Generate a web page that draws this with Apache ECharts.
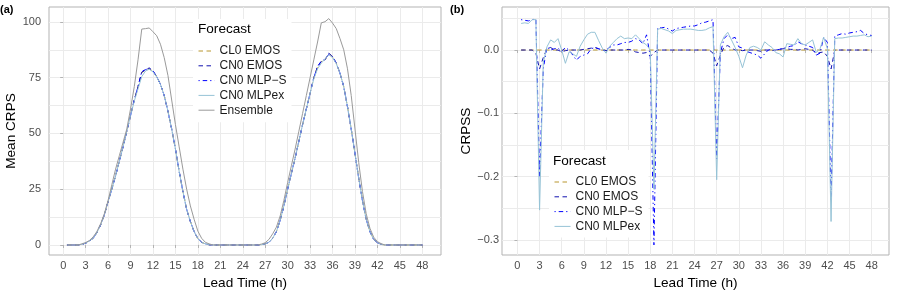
<!DOCTYPE html>
<html>
<head>
<meta charset="utf-8">
<script src="https://cdn.jsdelivr.net/npm/echarts@6/dist/echarts.min.js"></script>
<style>
html,body{margin:0;padding:0;background:#fff;}
#c{width:899px;height:295px;}
</style>
</head>
<body>
<div id="c"></div>
<script>
// ---- data ----
const leadTime = [0.5,1,1.5,2,2.5,3,3.5,4,4.5,5,5.5,6,6.5,7,7.5,8,8.5,9,9.5,10,10.5,11,11.5,12,
  12.5,13,13.5,14,14.5,15,15.5,16,16.5,17,17.5,18,18.5,19,19.5,20,20.5,21,21.5,22,22.5,23,23.5,24,
  24.5,25,25.5,26,26.5,27,27.5,28,28.5,29,29.5,30,30.5,31,31.5,32,32.5,33,33.5,34,34.5,35,35.5,36,
  36.5,37,37.5,38,38.5,39,39.5,40,40.5,41,41.5,42,42.5,43,43.5,44,44.5,45,45.5,46,46.5,47,47.5,48];

const xTicks = [0,3,6,9,12,15,18,21,24,27,30,33,36,39,42,45,48];
const crpsYTicks = [0,25,50,75,100];
const crpsYGrid = [0,12.5,25,37.5,50,62.5,75,87.5,100];
const crpssYTicks = [-0.3,-0.2,-0.1,0];
const crpssYGrid = [-0.3,-0.25,-0.2,-0.15,-0.1,-0.05,0,0.05];

// Panel (a): mean CRPS
const crpsEnsemble = [0,0,0,0,
  0.5,1.1,2.0,3.6,6.0,9.5,14,20,27,34,40,46,52,61,71,83,96.8,97.0,97.3,95.6,93.8,90,84,76,65,54,44,34,25,17.5,11.5,6.2,3.0,1.2,0.5,
  0,0,0,0,0,0,0,0,0,0,0,0,0,
  0.4,1.0,2.5,5,8,13,20,28,35.5,43,51,59,67,75,83,91,99.6,100.1,101.5,99.5,97,92.5,87.5,79,67,52,37,24,14,7.5,3.5,1.5,0.6,
  0,0,0,0,0,0,0,0,0,0,0];
const crpsCN0EMOS = [0,0,0,0,
  0.3,0.8,1.8,3.0,5.5,9.0,13.5,19.5,25,31,37.5,44,51,58,65,71,77.5,78.5,79.4,78,75.5,72,67,60,52,43,33,24,16,10.5,6,2.8,1.2,0.5,0.1,
  0,0,0,0,0,0,0,0,0,0,0,0,0,
  0.1,0.5,1.2,3,6,11,17.5,25,32,39,46.5,54,61,68,75,80,82.3,83,86,84.5,81.5,77,71,62,52,41,30,20,11.5,6,2.5,1,0.3,
  0,0,0,0,0,0,0,0,0,0,0];
const crpsCL0EMOS = [0,0,0,0,
  0.3,0.8,1.8,3.0,5.5,9.0,13.5,19.5,25,31,37.5,44,51,58,65,71,77.3,78.4,79.0,77.9,75.5,72,67,60,52,43,33,24,16,10.5,6,2.8,1.2,0.5,0.1,
  0,0,0,0,0,0,0,0,0,0,0,0,0,
  0.1,0.5,1.2,3,6,11,17.5,25,32,39,46.5,54,61,68,75,80,82.2,83,85.8,84.4,81.5,77,71,62,52,41,30,20,11.5,6,2.5,1,0.3,
  0,0,0,0,0,0,0,0,0,0,0];
const crpsCN0MLPS = [0,0,0,0,
  0.3,0.8,1.8,3.0,5.5,9.0,13.5,19.5,25,31,37.5,44,51,58,65,71,77.8,78.6,79.2,78,75.5,72,67,60,52,43,33,24,16,10.5,6,2.8,1.2,0.5,0.1,
  0,0,0,0,0,0,0,0,0,0,0,0,0,
  0.1,0.5,1.2,3,6,11,17.5,25,32,39,46.5,54,61,68,75,80,82.5,83.2,85.5,84.5,81.5,77,71,62,52,41,30,20,11.5,6,2.5,1,0.3,
  0,0,0,0,0,0,0,0,0,0,0];
const crpsCN0MLPex = [0,0,0,0,
  0.3,0.8,1.8,3.0,5.5,9.0,13.5,19.5,25,31,37.5,44,51,58,64.5,70,75.5,78,78.8,77.6,75.3,72,67,60,52,43,33,24,16,10.5,6,2.8,1.2,0.5,0.1,
  0,0,0,0,0,0,0,0,0,0,0,0,0,
  0.1,0.5,1.2,3,6,11,17.5,25,32,39,46.5,54,61,68,74.5,79,81.5,83.5,85.3,84,81.3,77,71,62,52,41,30,20,11.5,6,2.5,1,0.3,
  0,0,0,0,0,0,0,0,0,0,0];

// Panel (b): CRPSS
const crpssCL0EMOS = [0,0,0,0,0,0,0,0,0,0,0,0,0,0,0,0,0,0,0,0,0,0,0,0,
  0,0,0,0,0,0,0,0,0,0,0,0,0,0,0,0,0,0,0,0,0,0,0,0,
  0,0,0,0,0,0,0,0,0,0,0,0,0,0,0,0,0,0,0,0,0,0,0,0,
  0,0,0,0,0,0,0,0,0,0,0,0,0,0,0,0,0,0,0,0,0,0,0,0];
const crpssCN0EMOS = [0,0,0,0,-0.005,-0.030,-0.012,0.002,0.004,0,0,-0.003,-0.001,0,0,0,0,0.001,0.002,0.003,0.004,0.002,0,-0.001,
  0,0,0,0,0,0.001,0,-0.003,-0.004,-0.005,-0.004,-0.010,-0.004,0,0,0,0,0,0,0,0,0,0,0,
  0,0,0,0,-0.005,-0.025,-0.008,0.005,0.007,0.003,0,0,-0.001,0,0,0,-0.001,-0.002,0,0,-0.001,0,0.001,0.002,
  0.002,0.001,0.001,0,0.001,0.002,0.001,0,-0.006,-0.004,-0.003,-0.010,-0.030,0,0,0,0,0,0,0,0,0,0,0];
const crpssCN0MLPS = [0.048,0.047,0.046,0.048,0.049,-0.200,-0.030,0.005,0.000,0.002,0.003,-0.002,0.004,0.000,-0.008,-0.016,-0.010,-0.008,-0.006,0.002,0.004,0.002,0.000,0.000,
  0.004,0.008,0.008,0.010,0.012,0.012,0.014,0.018,0.016,0.010,0.024,-0.010,-0.308,0.035,0.035,0.036,0.033,0.030,0.034,0.035,0.036,0.037,0.038,0.038,
  0.040,0.043,0.044,0.046,0.048,-0.172,-0.005,0.018,0.024,0.018,0.020,0.005,0.003,-0.002,-0.004,-0.006,-0.008,-0.013,-0.006,0.000,0.001,0.000,0.001,0.003,
  0.004,0.006,0.007,0.013,0.010,0.008,0.006,0.004,-0.008,-0.005,0.020,0.012,-0.237,0.022,0.024,0.026,0.025,0.027,0.028,0.029,0.031,0.026,0.024,0.023];
const crpssCN0MLPex = [0.042,0.043,0.042,0.048,0.048,-0.253,-0.020,0.005,0.016,0.012,0.018,0.000,-0.021,-0.003,-0.006,-0.010,0.006,0.016,0.025,0.028,0.028,0.015,0.003,-0.005,
  0.006,0.012,0.018,0.022,0.018,0.019,0.018,0.024,0.018,0.012,0.008,0.000,-0.220,0.033,0.034,0.032,0.030,0.026,0.031,0.032,0.033,0.033,0.033,0.032,
  0.031,0.031,0.032,0.035,0.037,-0.205,0.008,0.021,0.028,0.016,0.004,-0.010,-0.028,-0.008,0.004,0.006,0.004,0.000,0.013,0.008,0.004,-0.004,-0.006,-0.011,
  0.010,0.009,0.008,0.018,0.010,0.008,0.012,0.016,-0.004,0.002,0.020,0.002,-0.271,0.018,0.019,0.019,0.020,0.021,0.022,0.022,0.023,0.024,0.021,0.022];

// ---- styling ----
const FONT = '"Liberation Sans", Arial, Helvetica, sans-serif';
const C = {
  cl0: '#B8962E', cn0: '#1212B0', mlps: '#0000FF', mlpex: '#96C3D6', ens: '#9A9A9A',
  grid: '#EBEBEB', border: '#B3B3B3', tick: '#4D4D4D'
};
const DASH = [4.5, 3.5];
const DOTDASH = [1.2, 3, 4.5, 3];
const STYLE = {
  'CL0 EMOS': [C.cl0, DASH],
  'CN0 EMOS': [C.cn0, DASH],
  'CN0 MLP\u2212S': [C.mlps, DOTDASH],
  'CN0 MLPex': [C.mlpex, 'solid'],
  'Ensemble': [C.ens, 'solid']
};
const pairs = arr => leadTime.map((t, i) => [t, arr[i]]);
const fmtMinus = v => (v < 0 ? '\u2212' : '') + Math.abs(v).toFixed(1);

function line(name, arr, xi, yi) {
  const [color, type] = STYLE[name];
  return {
    type: 'line', name, data: pairs(arr), xAxisIndex: xi, yAxisIndex: yi,
    symbol: 'none', showSymbol: false, smooth: false, z: 2,
    lineStyle: { color, width: 1, type },
    itemStyle: { color },
    emphasis: { disabled: true }, animation: false
  };
}
function legendItem(name) {
  const [color, type] = STYLE[name];
  return { name, lineStyle: { color, width: 1, type }, itemStyle: { opacity: 0, borderWidth: 0 } };
}

function xAxisCfg(gi, min, max) {
  return {
    gridIndex: gi, type: 'value', min, max,
    axisLine: { show: false },
    axisTick: { show: true, customValues: xTicks, length: 3, lineStyle: { color: C.border, width: 1 } },
    axisLabel: { customValues: xTicks, color: C.tick, fontSize: 11, fontFamily: FONT, margin: 5 },
    splitLine: { show: true, lineStyle: { color: C.grid, width: 1 } },
    minorSplitLine: { show: false },
    name: 'Lead Time (h)', nameLocation: 'middle', nameGap: 15.5,
    nameTextStyle: { fontSize: 13.6, color: '#000', fontFamily: FONT }
  };
}
function yLabelAxis(gi, min, max, ticks, name, gap, margin, fmt) {
  return {
    gridIndex: gi, type: 'value', min, max,
    axisLine: { show: false },
    axisTick: { show: true, customValues: ticks, length: 3, lineStyle: { color: C.border, width: 1 } },
    axisLabel: { customValues: ticks, color: C.tick, fontSize: 11, fontFamily: FONT, margin, formatter: fmt },
    splitLine: { show: false },
    name, nameLocation: 'middle', nameGap: gap,
    nameTextStyle: { fontSize: 13.6, color: '#000', fontFamily: FONT }
  };
}
function yGridAxis(gi, min, max, grid) {
  return {
    gridIndex: gi, type: 'value', min, max,
    axisLine: { show: false },
    axisTick: { show: false, customValues: grid },
    axisLabel: { show: false, customValues: grid },
    splitLine: { show: true, lineStyle: { color: C.grid, width: 1 } }
  };
}

const legendCommon = {
  orient: 'vertical', backgroundColor: '#fff', itemGap: 2.8, itemWidth: 16, itemHeight: 12,
  selectedMode: false,
  itemStyle: { opacity: 0, borderWidth: 0 },
  textStyle: { fontSize: 12, color: '#1A1A1A', fontFamily: FONT }
};

const option = {
  animation: false,
  backgroundColor: '#fff',
  textStyle: { fontFamily: FONT },
  title: [
    { text: '(a)', left: 0, top: 4, padding: 0, textStyle: { fontSize: 11, fontWeight: 'bold', color: '#000', fontFamily: FONT } },
    { text: '(b)', left: 450, top: 4, padding: 0, textStyle: { fontSize: 11, fontWeight: 'bold', color: '#000', fontFamily: FONT } },
    { text: 'Forecast', left: 198, top: 22, padding: 0, textStyle: { fontSize: 13.6, fontWeight: 'normal', color: '#000', fontFamily: FONT } },
    { text: 'Forecast', left: 553, top: 154, padding: 0, textStyle: { fontSize: 13.6, fontWeight: 'normal', color: '#000', fontFamily: FONT } }
  ],
  grid: [
    { left: 49, top: 7, width: 392, height: 248, show: true, borderColor: C.border, borderWidth: 1, backgroundColor: '#fff', containLabel: false, outerBoundsMode: 'none' },
    { left: 502, top: 7, width: 387, height: 248, show: true, borderColor: C.border, borderWidth: 1, backgroundColor: '#fff', containLabel: false, outerBoundsMode: 'none' }
  ],
  xAxis: [ xAxisCfg(0, -1.9, 50.5), xAxisCfg(1, -2.09, 50.35) ],
  yAxis: [
    yLabelAxis(0, -4.5, 106.7, crpsYTicks, 'Mean CRPS', 23.5, 8, v => String(v)),
    yGridAxis(0, -4.5, 106.7, crpsYGrid),
    yLabelAxis(1, -0.324, 0.068, crpssYTicks, 'CRPSS', 29, 3, fmtMinus),
    yGridAxis(1, -0.324, 0.068, crpssYGrid)
  ],
  legend: [
    Object.assign({}, legendCommon, {
      left: 193, top: 19, padding: [26, 5, 6, 5],
      data: ['CL0 EMOS', 'CN0 EMOS', 'CN0 MLP\u2212S', 'CN0 MLPex', 'Ensemble'].map(legendItem)
    }),
    Object.assign({}, legendCommon, {
      left: 549, top: 150, padding: [26, 6, 5, 5],
      data: ['CL0 EMOS', 'CN0 EMOS', 'CN0 MLP\u2212S', 'CN0 MLPex'].map(legendItem)
    })
  ],
  series: [
    line('CL0 EMOS', crpsCL0EMOS, 0, 0),
    line('CN0 EMOS', crpsCN0EMOS, 0, 0),
    line('CN0 MLP\u2212S', crpsCN0MLPS, 0, 0),
    line('CN0 MLPex', crpsCN0MLPex, 0, 0),
    line('Ensemble', crpsEnsemble, 0, 0),
    line('CL0 EMOS', crpssCL0EMOS, 1, 2),
    line('CN0 EMOS', crpssCN0EMOS, 1, 2),
    line('CN0 MLP\u2212S', crpssCN0MLPS, 1, 2),
    line('CN0 MLPex', crpssCN0MLPex, 1, 2)
  ]
};

const chart = echarts.init(document.getElementById('c'), null, { renderer: 'canvas', width: 899, height: 295 });
chart.setOption(option);
</script>
</body>
</html>
